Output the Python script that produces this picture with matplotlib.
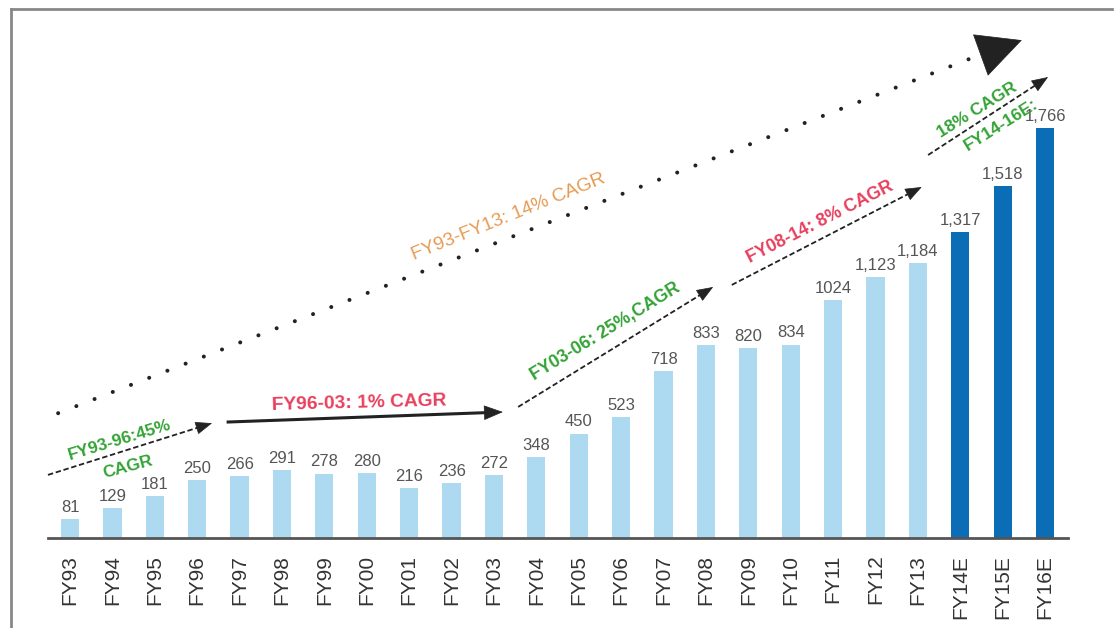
import matplotlib
matplotlib.use("Agg")
import matplotlib.pyplot as plt
from matplotlib.lines import Line2D

plt.rcParams['font.family'] = ['Liberation Sans', 'DejaVu Sans']

# data
years = ["FY93", "FY94", "FY95", "FY96", "FY97", "FY98", "FY99", "FY00", "FY01", "FY02",
         "FY03", "FY04", "FY05", "FY06", "FY07", "FY08", "FY09", "FY10", "FY11", "FY12",
         "FY13", "FY14E", "FY15E", "FY16E"]
values = [81, 129, 181, 250, 266, 291, 278, 280, 216, 236,
          272, 348, 450, 523, 718, 833, 820, 834, 1024, 1123,
          1184, 1317, 1518, 1766]
value_labels = ["81", "129", "181", "250", "266", "291", "278", "280", "216", "236",
                "272", "348", "450", "523", "718", "833", "820", "834", "1024", "1,123",
                "1,184", "1,317", "1,518", "1,766"]
is_estimate = [y.endswith("E") for y in years]

LIGHT = "#ADD9F1"
DARK = "#0A6DB5"
GREEN = "#34A336"
RED = "#E8405E"
ORANGE = "#E89A52"

fig = plt.figure(figsize=(11.15, 6.28), dpi=100)
ax = fig.add_axes([48 / 1115, 90 / 628, 1020 / 1115, 518 / 628])

x = list(range(len(years)))
colors = [DARK if e else LIGHT for e in is_estimate]
ax.bar(x, values, width=0.43, color=colors, zorder=2)

for xi, v, lab in zip(x, values, value_labels):
    ax.annotate(lab, (xi, v), xytext=(0, 3), textcoords="offset points",
                ha="center", va="bottom", fontsize=12, color="#555555")

ax.set_xlim(-0.519, 23.54)
ax.set_ylim(0, 2233)
ax.set_xticks(x)
ax.set_xticklabels(years, rotation=90, fontsize=15, color="#333333")
ax.tick_params(axis="x", length=0, pad=12)
ax.set_yticks([])
for s in ["top", "right", "left"]:
    ax.spines[s].set_visible(False)
ax.spines["bottom"].set_color("#555555")
ax.spines["bottom"].set_linewidth(2)


def arrow(p0, p1, ls="-", lw=1.3, head=12):
    # line then a solid head at the end
    fx = p0[0] + (p1[0] - p0[0]) * 0.97
    fy = p0[1] + (p1[1] - p0[1]) * 0.97
    ax.plot([p0[0], fx], [p0[1], fy], color="#222222", lw=lw, ls=ls,
            clip_on=False, zorder=3)
    ax.annotate("", xy=p1, xytext=(fx, fy),
                arrowprops=dict(arrowstyle="-|>,head_length=0.9,head_width=0.35",
                                color="#222222", lw=0.5, mutation_scale=head,
                                shrinkA=0, shrinkB=0),
                annotation_clip=False, zorder=3)


# long dotted trend FY93-FY13
ax.plot([-0.28, 21.34], [538, 2074], color="#222222", lw=2.9,
        ls=(0, (0.01, 4.84)), dash_capstyle="round", clip_on=False, zorder=3)
ax.annotate("", xy=(22.45, 2146), xytext=(21.6, 2090),
            arrowprops=dict(arrowstyle="-|>,head_length=1.4,head_width=0.7",
                            color="#222222", lw=0.5, mutation_scale=22,
                            shrinkA=0, shrinkB=0),
            annotation_clip=False, zorder=3)
ax.text(10.35, 1384, "FY93-FY13: 14% CAGR", color=ORANGE, fontsize=13.8,
        rotation=22, rotation_mode="anchor", ha="center", va="center")

# FY93-96
arrow((-0.52, 272), (3.35, 495), ls=(0, (3, 1.5)))
ax.text(1.18, 423, "FY93-96:45%", color=GREEN, fontsize=12.5, fontweight="bold",
        rotation=17, rotation_mode="anchor", ha="center", va="center")
ax.text(1.37, 306, "CAGR", color=GREEN, fontsize=12.5, fontweight="bold",
        rotation=15, rotation_mode="anchor", ha="center", va="center")

# FY96-03
arrow((3.73, 500), (10.21, 543), lw=2.2, head=14)
ax.text(6.82, 582, "FY96-03: 1% CAGR", color=RED, fontsize=13.8, fontweight="bold",
        rotation=1.5, rotation_mode="anchor", ha="center", va="center")

# FY03-06
arrow((10.57, 565), (15.17, 1082), ls=(0, (3, 1.5)))
ax.text(12.62, 888, "FY03-06: 25%,CAGR", color=GREEN, fontsize=12.8, fontweight="bold",
        rotation=31.5, rotation_mode="anchor", ha="center", va="center")

# FY08-14
arrow((15.61, 1091), (20.09, 1513), ls=(0, (3, 1.5)))
ax.text(17.69, 1362, "FY08-14: 8% CAGR", color=RED, fontsize=12.8, fontweight="bold",
        rotation=27, rotation_mode="anchor", ha="center", va="center")

# FY14-16E
arrow((20.24, 1651), (23.07, 1987), ls=(0, (3, 1.5)))
ax.text(21.39, 1845, "18% CAGR", color=GREEN, fontsize=12.5, fontweight="bold",
        rotation=32, rotation_mode="anchor", ha="center", va="center")
ax.text(21.95, 1780, "FY14-16E:", color=GREEN, fontsize=12.5, fontweight="bold",
        rotation=32, rotation_mode="anchor", ha="center", va="center")

# frame lines (left and top)
fig.add_artist(Line2D([11 / 1115, 11 / 1115], [0, 1 - 9 / 628], color="#888888", lw=2))
fig.add_artist(Line2D([11 / 1115, 1112 / 1115], [1 - 9 / 628, 1 - 9 / 628], color="#888888", lw=2))

fig.savefig("out.png", dpi=100)
